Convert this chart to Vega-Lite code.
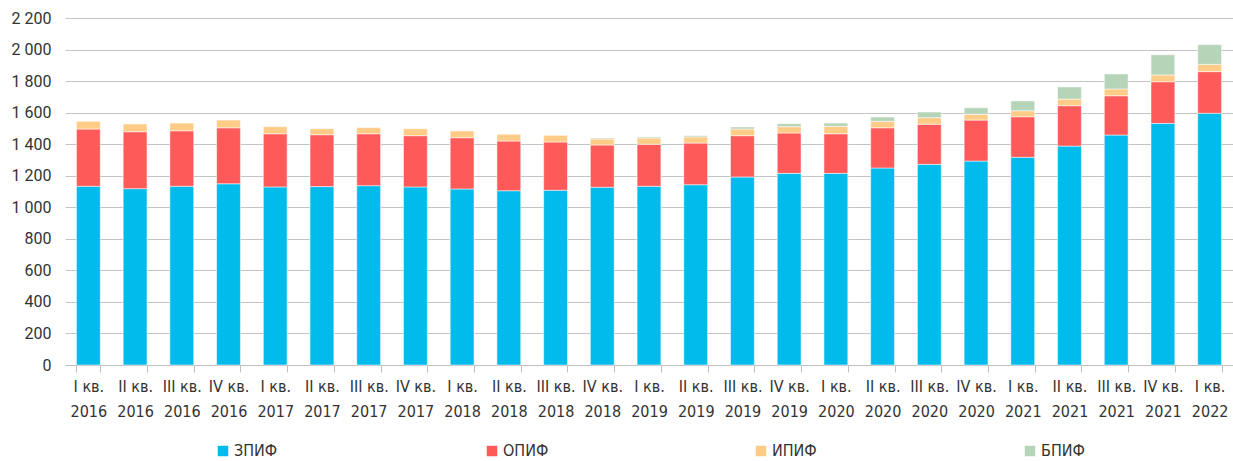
{
  "$schema": "https://vega.github.io/schema/vega-lite/v6.json",
  "width": 1168,
  "height": 347,
  "autosize": {"type": "none"},
  "padding": {"left": 65, "top": 18, "right": 0, "bottom": 96},
  "background": "white",
  "config": {"view": {"stroke": null}, "font": "Roboto"},
  "data": {
    "values": [
      {"q": "I кв. 2016", "t": "ЗПИФ", "k": 1, "v": 1133}, {"q": "I кв. 2016", "t": "ОПИФ", "k": 2, "v": 363}, {"q": "I кв. 2016", "t": "ИПИФ", "k": 3, "v": 49},
      {"q": "II кв. 2016", "t": "ЗПИФ", "k": 1, "v": 1118}, {"q": "II кв. 2016", "t": "ОПИФ", "k": 2, "v": 361}, {"q": "II кв. 2016", "t": "ИПИФ", "k": 3, "v": 49},
      {"q": "III кв. 2016", "t": "ЗПИФ", "k": 1, "v": 1133}, {"q": "III кв. 2016", "t": "ОПИФ", "k": 2, "v": 352}, {"q": "III кв. 2016", "t": "ИПИФ", "k": 3, "v": 49},
      {"q": "IV кв. 2016", "t": "ЗПИФ", "k": 1, "v": 1149}, {"q": "IV кв. 2016", "t": "ОПИФ", "k": 2, "v": 355}, {"q": "IV кв. 2016", "t": "ИПИФ", "k": 3, "v": 49},
      {"q": "I кв. 2017", "t": "ЗПИФ", "k": 1, "v": 1129}, {"q": "I кв. 2017", "t": "ОПИФ", "k": 2, "v": 337}, {"q": "I кв. 2017", "t": "ИПИФ", "k": 3, "v": 45},
      {"q": "II кв. 2017", "t": "ЗПИФ", "k": 1, "v": 1131}, {"q": "II кв. 2017", "t": "ОПИФ", "k": 2, "v": 329}, {"q": "II кв. 2017", "t": "ИПИФ", "k": 3, "v": 38},
      {"q": "III кв. 2017", "t": "ЗПИФ", "k": 1, "v": 1137}, {"q": "III кв. 2017", "t": "ОПИФ", "k": 2, "v": 329}, {"q": "III кв. 2017", "t": "ИПИФ", "k": 3, "v": 39},
      {"q": "IV кв. 2017", "t": "ЗПИФ", "k": 1, "v": 1129}, {"q": "IV кв. 2017", "t": "ОПИФ", "k": 2, "v": 325}, {"q": "IV кв. 2017", "t": "ИПИФ", "k": 3, "v": 44},
      {"q": "I кв. 2018", "t": "ЗПИФ", "k": 1, "v": 1116}, {"q": "I кв. 2018", "t": "ОПИФ", "k": 2, "v": 325}, {"q": "I кв. 2018", "t": "ИПИФ", "k": 3, "v": 43},
      {"q": "II кв. 2018", "t": "ЗПИФ", "k": 1, "v": 1105}, {"q": "II кв. 2018", "t": "ОПИФ", "k": 2, "v": 315}, {"q": "II кв. 2018", "t": "ИПИФ", "k": 3, "v": 43},
      {"q": "III кв. 2018", "t": "ЗПИФ", "k": 1, "v": 1108}, {"q": "III кв. 2018", "t": "ОПИФ", "k": 2, "v": 306}, {"q": "III кв. 2018", "t": "ИПИФ", "k": 3, "v": 42},
      {"q": "IV кв. 2018", "t": "ЗПИФ", "k": 1, "v": 1127}, {"q": "IV кв. 2018", "t": "ОПИФ", "k": 2, "v": 268}, {"q": "IV кв. 2018", "t": "ИПИФ", "k": 3, "v": 38}, {"q": "IV кв. 2018", "t": "БПИФ", "k": 4, "v": 6},
      {"q": "I кв. 2019", "t": "ЗПИФ", "k": 1, "v": 1133}, {"q": "I кв. 2019", "t": "ОПИФ", "k": 2, "v": 266}, {"q": "I кв. 2019", "t": "ИПИФ", "k": 3, "v": 40}, {"q": "I кв. 2019", "t": "БПИФ", "k": 4, "v": 7},
      {"q": "II кв. 2019", "t": "ЗПИФ", "k": 1, "v": 1143}, {"q": "II кв. 2019", "t": "ОПИФ", "k": 2, "v": 264}, {"q": "II кв. 2019", "t": "ИПИФ", "k": 3, "v": 39}, {"q": "II кв. 2019", "t": "БПИФ", "k": 4, "v": 8},
      {"q": "III кв. 2019", "t": "ЗПИФ", "k": 1, "v": 1192}, {"q": "III кв. 2019", "t": "ОПИФ", "k": 2, "v": 262}, {"q": "III кв. 2019", "t": "ИПИФ", "k": 3, "v": 42}, {"q": "III кв. 2019", "t": "БПИФ", "k": 4, "v": 13},
      {"q": "IV кв. 2019", "t": "ЗПИФ", "k": 1, "v": 1215}, {"q": "IV кв. 2019", "t": "ОПИФ", "k": 2, "v": 256}, {"q": "IV кв. 2019", "t": "ИПИФ", "k": 3, "v": 40}, {"q": "IV кв. 2019", "t": "БПИФ", "k": 4, "v": 19},
      {"q": "I кв. 2020", "t": "ЗПИФ", "k": 1, "v": 1215}, {"q": "I кв. 2020", "t": "ОПИФ", "k": 2, "v": 251}, {"q": "I кв. 2020", "t": "ИПИФ", "k": 3, "v": 47}, {"q": "I кв. 2020", "t": "БПИФ", "k": 4, "v": 21},
      {"q": "II кв. 2020", "t": "ЗПИФ", "k": 1, "v": 1249}, {"q": "II кв. 2020", "t": "ОПИФ", "k": 2, "v": 255}, {"q": "II кв. 2020", "t": "ИПИФ", "k": 3, "v": 41}, {"q": "II кв. 2020", "t": "БПИФ", "k": 4, "v": 27},
      {"q": "III кв. 2020", "t": "ЗПИФ", "k": 1, "v": 1272}, {"q": "III кв. 2020", "t": "ОПИФ", "k": 2, "v": 254}, {"q": "III кв. 2020", "t": "ИПИФ", "k": 3, "v": 42}, {"q": "III кв. 2020", "t": "БПИФ", "k": 4, "v": 36},
      {"q": "IV кв. 2020", "t": "ЗПИФ", "k": 1, "v": 1293}, {"q": "IV кв. 2020", "t": "ОПИФ", "k": 2, "v": 260}, {"q": "IV кв. 2020", "t": "ИПИФ", "k": 3, "v": 36}, {"q": "IV кв. 2020", "t": "БПИФ", "k": 4, "v": 42},
      {"q": "I кв. 2021", "t": "ЗПИФ", "k": 1, "v": 1317}, {"q": "I кв. 2021", "t": "ОПИФ", "k": 2, "v": 257}, {"q": "I кв. 2021", "t": "ИПИФ", "k": 3, "v": 38}, {"q": "I кв. 2021", "t": "БПИФ", "k": 4, "v": 62},
      {"q": "II кв. 2021", "t": "ЗПИФ", "k": 1, "v": 1388}, {"q": "II кв. 2021", "t": "ОПИФ", "k": 2, "v": 256}, {"q": "II кв. 2021", "t": "ИПИФ", "k": 3, "v": 42}, {"q": "II кв. 2021", "t": "БПИФ", "k": 4, "v": 77},
      {"q": "III кв. 2021", "t": "ЗПИФ", "k": 1, "v": 1458}, {"q": "III кв. 2021", "t": "ОПИФ", "k": 2, "v": 249}, {"q": "III кв. 2021", "t": "ИПИФ", "k": 3, "v": 43}, {"q": "III кв. 2021", "t": "БПИФ", "k": 4, "v": 95},
      {"q": "IV кв. 2021", "t": "ЗПИФ", "k": 1, "v": 1532}, {"q": "IV кв. 2021", "t": "ОПИФ", "k": 2, "v": 264}, {"q": "IV кв. 2021", "t": "ИПИФ", "k": 3, "v": 43}, {"q": "IV кв. 2021", "t": "БПИФ", "k": 4, "v": 128},
      {"q": "I кв. 2022", "t": "ЗПИФ", "k": 1, "v": 1596}, {"q": "I кв. 2022", "t": "ОПИФ", "k": 2, "v": 264}, {"q": "I кв. 2022", "t": "ИПИФ", "k": 3, "v": 46}, {"q": "I кв. 2022", "t": "БПИФ", "k": 4, "v": 125}
    ]
  },
  "mark": {"type": "bar", "stroke": "white", "strokeWidth": 1, "strokeOpacity": 0.5},
  "encoding": {
    "x": {
      "field": "q", "type": "ordinal", "sort": null,
      "scale": {"paddingInner": 0.49, "paddingOuter": 0.245},
      "axis": {
        "title": null, "labelAngle": 0, "tickBand": "extent", "tickSize": 7,
        "tickColor": "#BFBFBF", "domainColor": "#BFBFBF", "grid": false,
        "labelFont": "DejaVu Sans Condensed, Roboto, sans-serif", "labelFontSize": 16, "labelColor": "#333333",
        "labelLineHeight": 25, "labelPadding": 6,
        "labelExpr": "datum.label ? [split(datum.label, ' ')[0] + ' ' + split(datum.label, ' ')[1], split(datum.label, ' ')[2]] : ''"
      }
    },
    "y": {
      "field": "v", "type": "quantitative", "stack": "zero",
      "scale": {"domain": [0, 2200]},
      "axis": {
        "title": null, "values": [0, 200, 400, 600, 800, 1000, 1200, 1400, 1600, 1800, 2000, 2200],
        "domain": false, "ticks": false, "gridColor": "#C4C4C4", "gridWidth": 1,
        "labelFontSize": 16, "labelColor": "#333333", "labelPadding": 14,
        "labelExpr": "replace(format(datum.value, ','), ',', ' ')"
      }
    },
    "color": {
      "field": "t", "type": "nominal",
      "scale": {"domain": ["ЗПИФ", "ОПИФ", "ИПИФ", "БПИФ"], "range": ["#00BBEB", "#FF5A5A", "#FFCC88", "#B6D4B8"]},
      "legend": {
        "title": null, "orient": "none", "legendX": 150, "legendY": 425,
        "direction": "horizontal", "columns": 4, "gridAlign": "all", "columnPadding": 204,
        "symbolType": "square", "symbolSize": 110, "symbolStrokeWidth": 0,
        "labelFont": "DejaVu Sans Condensed, Roboto, sans-serif", "labelFontSize": 16, "labelColor": "#333333", "labelOffset": 3
      }
    },
    "order": {"field": "k", "type": "quantitative"}
  }
}
